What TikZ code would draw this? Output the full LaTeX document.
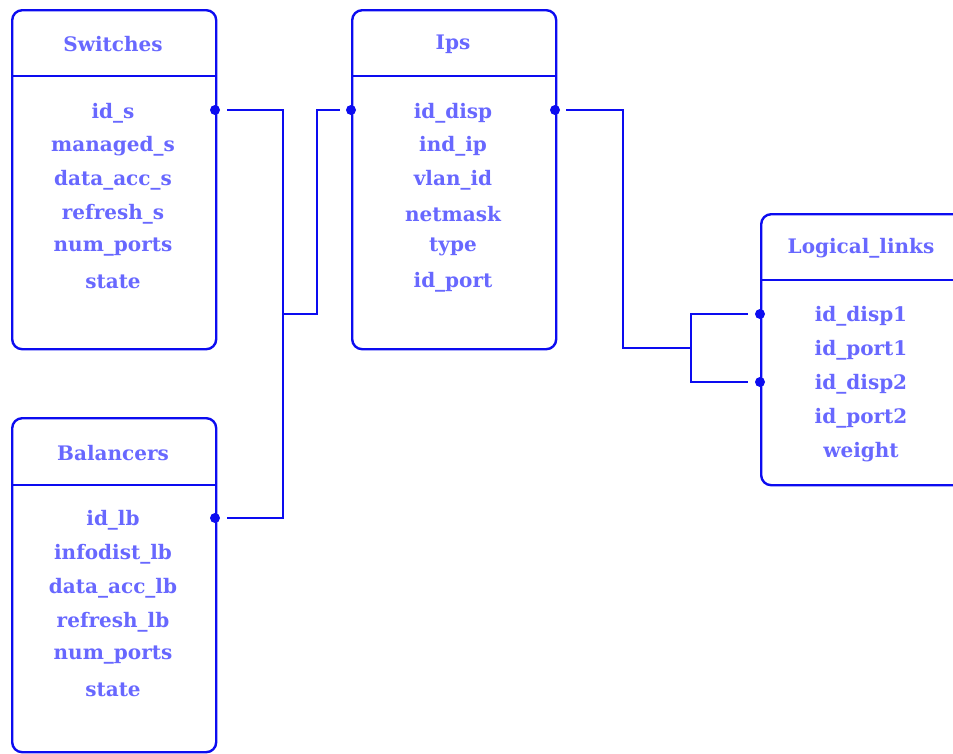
\documentclass[tikz,border=0pt]{standalone}
\usepackage{fontspec}
\setmainfont{DejaVu Serif}
\definecolor{ln}{RGB}{12,12,240}
\definecolor{tx}{RGB}{104,104,255}
\begin{document}
\begin{tikzpicture}[x=1pt,y=-1pt,
  box/.style={draw=ln, line width=2.4pt, rounded corners=10pt, anchor=north west, inner sep=0pt},
  sep/.style={draw=ln, line width=1.3pt},
  lbl/.style={text=tx, font=\fontsize{20}{24}\selectfont\bfseries, inner sep=0pt, anchor=base, yshift=-8pt},
  conn/.style={draw=ln, line width=2.4pt},
  dot/.style={circle, fill=ln, inner sep=0pt, minimum size=10pt}]
\useasboundingbox (0,0) rectangle (953,753);
\clip (0,0) rectangle (953,753);
% boxes
\node[box, minimum width=204pt, minimum height=339pt] (sw) at (11,9) {};
\node[box, minimum width=204pt, minimum height=339pt] (ip) at (351,9) {};
\node[box, minimum width=204pt, minimum height=271pt] (ll) at (760,213) {};
\node[box, minimum width=204pt, minimum height=334pt] (lb) at (11,417) {};
\draw[sep] (sw.west |- 0,76) -- (sw.east |- 0,76);
\draw[sep] (ip.west |- 0,76) -- (ip.east |- 0,76);
\draw[sep] (ll.west |- 0,280) -- (ll.east |- 0,280);
\draw[sep] (lb.west |- 0,485) -- (lb.east |- 0,485);
% Switches
\node[lbl] (swh) at (113,43) {Switches};
\node[lbl] (sw1) at (113,110) {id\_s};
\node[lbl] (sw2) at (113,143) {managed\_s};
\node[lbl] (sw3) at (113,177) {data\_acc\_s};
\node[lbl] (sw4) at (113,211) {refresh\_s};
\node[lbl] (sw5) at (113,243) {num\_ports};
\node[lbl] (sw6) at (113,280) {state};
% Ips
\node[lbl] (iph) at (453,41) {Ips};
\node[lbl] (ip1) at (453,110) {id\_disp};
\node[lbl] (ip2) at (453,143) {ind\_ip};
\node[lbl] (ip3) at (453,177) {vlan\_id};
\node[lbl] (ip4) at (453,213) {netmask};
\node[lbl] (ip5) at (453,243) {type};
\node[lbl] (ip6) at (453,279) {id\_port};
% Logical links
\node[lbl] (llh) at (861,245) {Logical\_links};
\node[lbl] (ll1) at (861,313) {id\_disp1};
\node[lbl] (ll2) at (861,347) {id\_port1};
\node[lbl] (ll3) at (861,381) {id\_disp2};
\node[lbl] (ll4) at (861,415) {id\_port2};
\node[lbl] (ll5) at (861,449) {weight};
% Balancers
\node[lbl] (lbh) at (113,452) {Balancers};
\node[lbl] (lb1) at (113,517) {id\_lb};
\node[lbl] (lb2) at (113,551) {infodist\_lb};
\node[lbl] (lb3) at (113,585) {data\_acc\_lb};
\node[lbl] (lb4) at (113,619) {refresh\_lb};
\node[lbl] (lb5) at (113,651) {num\_ports};
\node[lbl] (lb6) at (113,688) {state};
% dots
\node[dot] (dsw) at (215,110) {};
\node[dot] (dlb) at (215,518) {};
\node[dot] (dip) at (351,110) {};
\node[dot] (dipo) at (555,110) {};
\node[dot] (dl1) at (760,314) {};
\node[dot] (dl2) at (760,382) {};
\coordinate (j1) at (283,314);
\coordinate (j2) at (691,348);
% connectors
\draw[conn] ([xshift=12pt]dsw.center) -| (j1) |- ([xshift=12pt]dlb.center);
\draw[conn] (j1) -- (317,314) |- ([xshift=-11pt]dip.center);
\draw[conn] ([xshift=11pt]dipo.center) -- (623,110) |- (j2);
\draw[conn] ([xshift=-12pt]dl1.center) -| (j2) |- ([xshift=-12pt]dl2.center);
\end{tikzpicture}
\end{document}
